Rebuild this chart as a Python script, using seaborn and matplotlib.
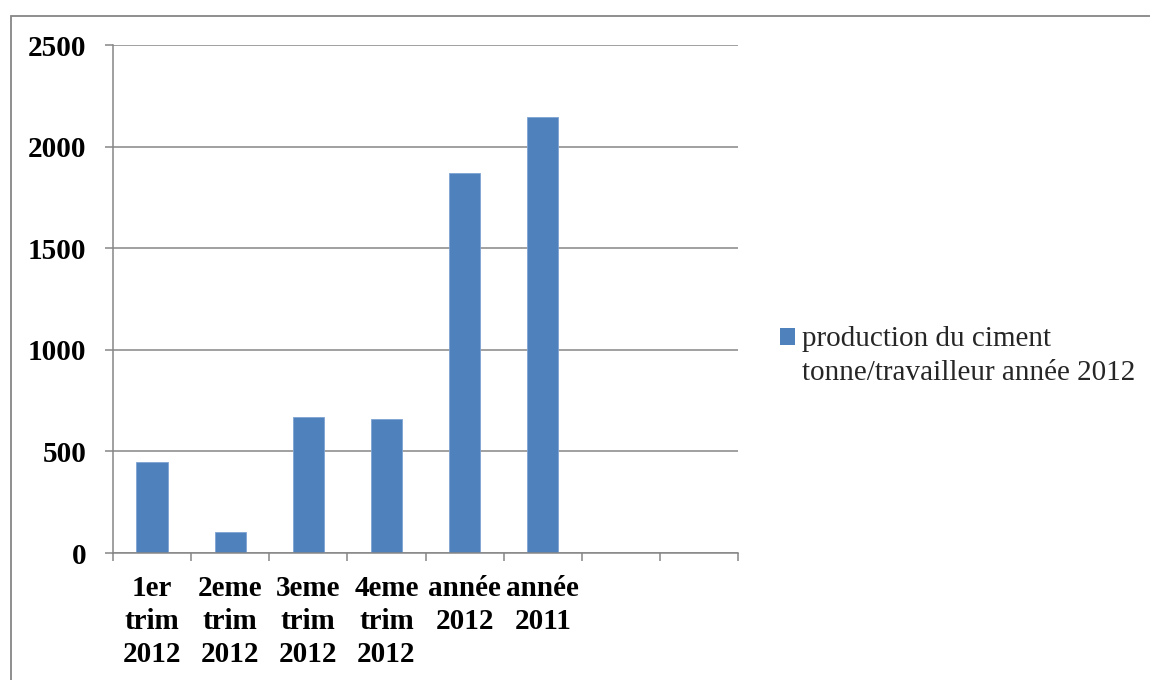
import matplotlib
matplotlib.use("Agg")
import matplotlib.pyplot as plt
from matplotlib.patches import Rectangle
from matplotlib.container import BarContainer
from matplotlib.legend_handler import HandlerPatch
from matplotlib.ticker import FixedLocator
import seaborn as sns
import pandas as pd

# Cement production per worker (tonnes)
categories = ["1er\ntrim\n2012", "2eme\ntrim\n2012", "3eme\ntrim\n2012",
              "4eme\ntrim\n2012", "année\n2012", "année\n2011"]
values = [446, 102, 667, 659, 1872, 2144]
series_name = "production du ciment\ntonne/travailleur année 2012"
y_ticks = [0, 500, 1000, 1500, 2000, 2500]
n_slots = 8  # two trailing empty category slots

BLUE = "#4F81BD"
GREY = "#868686"
FS = 21

sns.set_theme(style="white")
plt.rcParams["font.family"] = ["Liberation Serif", "DejaVu Serif"]

W, H = 1150, 680
fig = plt.figure(figsize=(W / 100, H / 100), dpi=100)
ax = fig.add_axes([113 / W, 1 - 553 / H, (738 - 113) / W, (553 - 45) / H])

df = pd.DataFrame({"cat": categories, "val": values})
sns.barplot(data=df, x="cat", y="val", order=categories, color=BLUE,
            width=0.4, saturation=1, ax=ax, label=series_name,
            edgecolor="#7FA3D3", linewidth=0.6)

ax.set_xlim(-0.5, n_slots - 0.5)
ax.set_ylim(y_ticks[0], y_ticks[-1])
ax.set_yticks(y_ticks)
ax.set_xlabel("")
ax.set_ylabel("")

# horizontal gridlines
ax.yaxis.grid(True, color=GREY, linewidth=1.1)
ax.xaxis.grid(False)
ax.set_axisbelow(True)

for side in ("top", "right"):
    ax.spines[side].set_visible(False)
for side in ("left", "bottom"):
    ax.spines[side].set_color(GREY)
    ax.spines[side].set_linewidth(1.1)

# category labels centred in slots, tick marks on slot boundaries
ax.xaxis.set_minor_locator(FixedLocator([i - 0.5 for i in range(n_slots + 1)]))
ax.tick_params(axis="x", which="major", length=0, pad=16,
               labelsize=FS, labelcolor="black")
ax.tick_params(axis="x", which="minor", length=6, width=1.1, color=GREY,
               direction="out", bottom=True)
ax.tick_params(axis="y", which="major", length=6, width=1.1, color=GREY,
               direction="out", left=True, pad=13, labelsize=FS,
               labelcolor="black")
for lbl in ax.get_xticklabels():
    lbl.set_fontweight("bold")
    lbl.set_multialignment("center")
    lbl.set_linespacing(1.27)
for lbl in ax.get_yticklabels():
    lbl.set_fontweight("bold")


# legend key sits beside the first line of the two-line label
def raised_square(legend, orig_handle, xdescent, ydescent, width, height,
                  fontsize):
    return Rectangle((-xdescent, -ydescent + 13.5), width, height)


def style_from_bar(tgt, src):
    first = next(iter(src.get_children()), None)
    if first is not None:
        tgt.update_from(first)
    tgt.set_edgecolor("none")


leg = ax.legend(loc="upper left", bbox_to_anchor=(780 / W, 1 - 326 / H),
                bbox_transform=fig.transFigure, frameon=False,
                fontsize=FS, handlelength=0.51, handleheight=0.51,
                handletextpad=0.24, borderpad=0, borderaxespad=0,
                handler_map={BarContainer: HandlerPatch(
                    patch_func=raised_square, update_func=style_from_bar)})
for t in leg.get_texts():
    t.set_linespacing(1.38)

# outer chart frame
fig.patches.append(Rectangle((11 / W, -0.1), 1.2, 1 - 15.5 / H + 0.1,
                             transform=fig.transFigure, fill=False,
                             edgecolor=GREY, linewidth=1.3))

fig.savefig("out.png", dpi=100, facecolor="white")
